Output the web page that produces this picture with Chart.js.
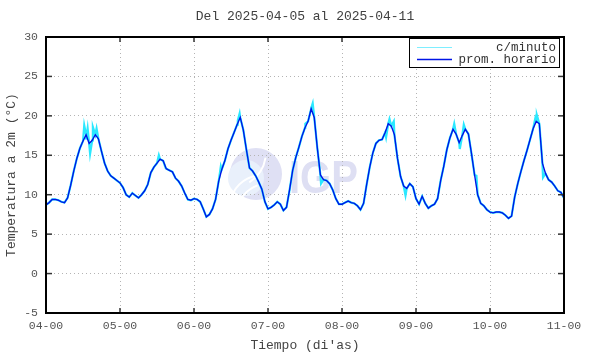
<!DOCTYPE html>
<html>
<head>
<meta charset="utf-8">
<title>Temperatura a 2m</title>
<script src="https://cdn.jsdelivr.net/npm/chart.js@4.4.1/dist/chart.umd.min.js"></script>
<style>
  body { margin: 0; background: #fff; }
  canvas { display: block; }
</style>
</head>
<body>
<canvas id="grafico" width="590" height="354"></canvas>
<script>
// etiquetas del eje x (una por dia, cada 24 h)
var dias = ["04-00", "05-00", "06-00", "07-00", "08-00", "09-00", "10-00", "11-00"];

// promedio horario (°C), hora 0 .. 168
var horario = [
  8.7, 9.0, 9.4, 9.4, 9.3, 9.1, 9.0, 9.6, 11.2, 13.0, 14.6, 15.9, 16.8, 17.6, 16.5, 16.9, 17.6, 17.1, 15.5, 14.0, 13.0, 12.4, 12.1, 11.8,
  11.5, 10.9, 10.0, 9.7, 10.2, 9.9, 9.6, 10.0, 10.5, 11.3, 12.8, 13.5, 14.0, 14.5, 14.3, 13.3, 13.1, 12.9, 12.1, 11.7, 11.1, 10.2, 9.4, 9.3,
  9.5, 9.4, 9.1, 8.2, 7.2, 7.5, 8.2, 9.4, 11.7, 13.2, 14.3, 15.8, 16.9, 17.9, 18.9, 19.8, 18.2, 15.7, 13.4, 13.0, 12.4, 11.6, 10.7, 9.1,
  8.2, 8.4, 8.7, 9.1, 8.8, 8.0, 8.4, 10.6, 13.1, 14.7, 16.0, 17.4, 18.5, 19.3, 20.9, 19.8, 15.9, 12.5, 11.9, 11.8, 11.4, 10.6, 9.5, 8.8,
  8.8, 9.0, 9.2, 9.0, 8.9, 8.6, 8.1, 8.9, 11.3, 13.5, 15.3, 16.5, 16.9, 17.0, 17.9, 19.0, 18.7, 17.6, 14.6, 12.3, 11.1, 10.8, 11.4, 11.0,
  9.5, 8.8, 9.8, 8.9, 8.3, 8.6, 8.8, 9.5, 11.8, 13.6, 15.7, 17.2, 18.3, 17.7, 16.6, 17.5, 18.3, 17.7, 15.2, 12.5, 10.0, 8.9, 8.6, 8.1,
  7.8, 7.7, 7.8, 7.8, 7.7, 7.4, 7.0, 7.3, 9.7, 11.4, 12.9, 14.3, 15.6, 17.0, 18.4, 19.3, 19.0, 14.0, 12.7, 11.9, 11.6, 11.1, 10.5, 10.3, 9.6
];

// picos del registro por minuto que se ven fuera del promedio [hora, °C]
var picosHoras = [12.4, 13.0, 13.5, 14.3, 15.2, 16.4,
  36.6, 38.8,
  56.7, 62.2, 62.8,
  84.1, 86.1, 86.5, 89.2,
  110.3, 111.4, 112.8, 116.6,
  132.4, 134.2, 135.5, 139.6,
  158.7, 159.2, 161.2];
var picosValores = [18.8, 17.0, 18.4, 15.2, 18.6, 18.4,
  15.0, 13.4,
  13.6, 19.4, 20.3,
  19.0, 21.1, 21.6, 11.4,
  17.3, 19.6, 19.3, 9.9,
  19.0, 15.8, 18.9, 12.4,
  19.7, 20.1, 12.2];

var fuenteTicks = { family: "'Liberation Mono', monospace", size: 11.5 };
var fuenteTitulo = { family: "'Liberation Mono', monospace", size: 13 };

function puntosHorario() {
  return horario.map(function (v, i) { return { x: i, y: v }; });
}

function puntosMinuto() {
  var p = puntosHorario();
  for (var i = 0; i < picosHoras.length; i++) {
    p.push({ x: picosHoras[i], y: picosValores[i] });
  }
  p.sort(function (a, b) { return a.x - b.x; });
  return p;
}

function linea(c, x1, y1, x2, y2) {
  c.beginPath();
  c.moveTo(x1, y1);
  c.lineTo(x2, y2);
  c.stroke();
}

function dibujarLogo(c) {
  c.save();
  c.fillStyle = "#dfe0f4";
  c.beginPath();
  c.arc(256, 174, 26, 0, Math.PI * 2);
  c.fill();
  c.fillStyle = "#e9f0fb";
  c.beginPath();
  c.arc(246, 178, 18, 0, Math.PI * 2);
  c.fill();
  c.strokeStyle = "#ffffff";
  c.lineWidth = 2;
  c.beginPath();
  c.arc(262, 207, 32, Math.PI * 1.05, Math.PI * 1.45);
  c.stroke();
  c.beginPath();
  c.arc(270, 217, 34, Math.PI * 1.08, Math.PI * 1.38);
  c.stroke();
  c.beginPath();
  c.arc(230, 152, 36, Math.PI * 0.05, Math.PI * 0.32);
  c.stroke();
  c.fillStyle = "#dedff3";
  c.font = "bold 46px 'Liberation Sans', sans-serif";
  c.translate(289, 193);
  c.scale(0.87, 1);
  c.fillText("IGP", 0, 0);
  c.restore();
}

var marco = {
  id: "marco",
  beforeDraw: function (chart) {
    dibujarLogo(chart.ctx);
  },
  afterDraw: function (chart) {
    var c = chart.ctx;
    var a = chart.chartArea;
    var sx = chart.scales.x;
    var sy = chart.scales.y;
    c.save();

    // titulo
    c.fillStyle = "#404040";
    c.font = "13px 'Liberation Mono', monospace";
    c.textAlign = "center";
    c.textBaseline = "middle";
    c.fillText("Del 2025-04-05 al 2025-04-11", (a.left + a.right) / 2, 17);

    // marcas hacia adentro
    c.strokeStyle = "#333";
    c.lineWidth = 1.5;
    for (var v = -5; v <= 30; v += 5) {
      var py = sy.getPixelForValue(v);
      linea(c, a.left, py, a.left + 6, py);
      linea(c, a.right - 6, py, a.right, py);
    }
    for (var i = 0; i < dias.length; i++) {
      var px = sx.getPixelForValue(i * 24);
      linea(c, px, a.bottom, px, a.bottom - 5);
      linea(c, px, a.top, px, a.top + 5);
    }

    // marco
    c.strokeStyle = "#000";
    c.lineWidth = 2;
    c.strokeRect(a.left, a.top, a.right - a.left, a.bottom - a.top);

    // leyenda
    c.fillStyle = "#fff";
    c.fillRect(409, 38, 150, 29);
    c.lineWidth = 1;
    c.strokeRect(409.5, 38.5, 150, 29);
    c.strokeStyle = "#7eeeff";
    c.lineWidth = 1.2;
    linea(c, 417, 47.5, 452, 47.5);
    c.strokeStyle = "#0014e6";
    c.lineWidth = 1.4;
    linea(c, 417, 59.5, 452, 59.5);
    c.fillStyle = "#333";
    c.font = "12.5px 'Liberation Mono', monospace";
    c.textAlign = "right";
    c.fillText("c/minuto", 556, 48);
    c.fillText("prom. horario", 556, 60);
    c.restore();
  }
};

var ctx = document.getElementById("grafico").getContext("2d");
var grafico = new Chart(ctx, {
  type: "line",
  data: {
    datasets: [
      {
        label: "prom. horario",
        data: puntosHorario(),
        borderColor: "#0014e6",
        borderWidth: 1.4,
        pointRadius: 0,
        tension: 0,
        order: 1
      },
      {
        label: "c/minuto",
        data: puntosMinuto(),
        borderColor: "#2ae8ff",
        borderWidth: 2.2,
        pointRadius: 0,
        tension: 0,
        order: 2
      }
    ]
  },
  options: {
    responsive: false,
    animation: false,
    devicePixelRatio: 1,
    layout: { padding: { top: 37, right: 26, left: 0, bottom: 0 } },
    plugins: {
      legend: { display: false },
      tooltip: { enabled: false },
      title: { display: false }
    },
    scales: {
      x: {
        type: "linear",
        min: 0,
        max: 168,
        afterFit: function (s) { s.height = 41; },
        ticks: {
          stepSize: 24,
          autoSkip: false,
          maxRotation: 0,
          padding: 6,
          color: "#555",
          font: fuenteTicks,
          callback: function (v) { return dias[Math.round(v / 24)]; }
        },
        grid: { color: "#b4b4b4", lineWidth: 1, drawTicks: false },
        border: { display: false, dash: [1, 3] },
        title: {
          display: true,
          text: "Tiempo (di'as)",
          color: "#444",
          font: fuenteTitulo,
          padding: { top: 0, bottom: 1 }
        }
      },
      y: {
        min: -5,
        max: 30,
        afterFit: function (s) { s.width = 46; },
        ticks: {
          stepSize: 5,
          padding: 8,
          color: "#555",
          font: fuenteTicks
        },
        grid: { color: "#b4b4b4", lineWidth: 1, drawTicks: false },
        border: { display: false, dash: [1, 3] },
        title: {
          display: true,
          text: "Temperatura a 2m (°C)",
          color: "#444",
          font: fuenteTitulo,
          padding: { top: 4, bottom: 0 }
        }
      }
    }
  },
  plugins: [marco]
});
</script>
</body>
</html>
